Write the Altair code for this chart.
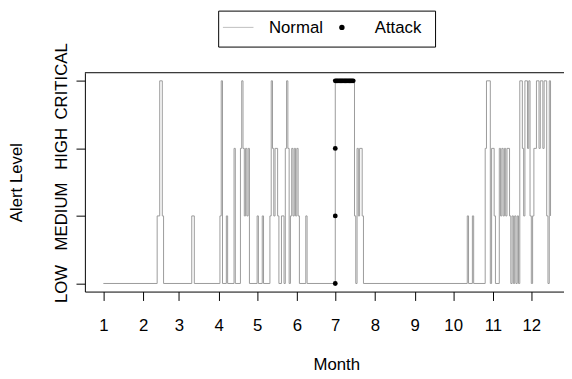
import altair as alt
import pandas as pd

# ---- data (day of year, alert level code: 0=LOW 1=MEDIUM 2=HIGH 3=CRITICAL) ----
level_names = ["LOW", "MEDIUM", "HIGH", "CRITICAL"]
month_start_days = [1, 32, 60, 91, 121, 152, 182, 213, 244, 274, 305, 335]
month_labels = ["1", "2", "3", "4", "5", "6", "7", "8", "9", "10", "11", "12"]

normal_day = [1, 43, 45, 47, 48, 70, 72, 92, 93, 94, 97, 98, 103, 104,
              108, 109, 110, 111, 112, 113, 114, 115, 121, 122, 125, 126,
              131, 132, 133, 134, 135, 137, 138, 140, 142,
              143, 144, 145, 146, 147, 148, 149, 150, 151, 152, 153, 154,
              159, 160, 182,
              197, 198, 199, 200, 201, 203, 204,
              285, 286, 289, 290,
              299, 300, 303, 304, 306, 307,
              310, 311, 312, 313, 314, 315, 316, 318, 319, 320, 321, 322, 323, 324, 325,
              326, 328, 329, 330, 332, 333, 334, 335, 336, 337, 339, 341, 342, 344, 345,
              347, 348, 349, 350]
normal_level = [0, 1, 3, 1, 0, 1, 0, 1, 3, 0, 1, 0, 2, 0,
                2, 3, 2, 1, 2, 1, 2, 0, 1, 0, 1, 0,
                1, 3, 2, 1, 2, 1, 0, 1, 0,
                2, 3, 2, 0, 1, 2, 1, 2, 1, 2, 1, 0,
                1, 0, 3,
                1, 0, 2, 1, 2, 1, 0,
                1, 0, 1, 0,
                2, 3, 0, 2, 1, 0,
                2, 1, 2, 1, 2, 1, 2, 1, 0, 1, 0, 1, 0, 1, 0,
                3, 2, 1, 3, 2, 3, 1, 0, 1, 2, 3, 2, 3, 2, 3,
                1, 0, 3, 1]

attack_day = [182, 182, 182, 182, 183, 184, 185, 186, 187, 188, 189, 190,
              191, 192, 193, 194, 195, 196]
attack_level = [0, 1, 2, 3, 3, 3, 3, 3, 3, 3, 3, 3,
                3, 3, 3, 3, 3, 3]

legend_labels = ["Normal", "Attack"]
x_title = "Month"
y_title = "Alert Level"

FONT = "Liberation Sans"
FS = 17
W, H = 486, 222

normal_df = pd.DataFrame({"day": normal_day, "level": normal_level})
attack_df = pd.DataFrame({"day": attack_day, "level": attack_level})
one = pd.DataFrame({"k": [0]})

x_scale = alt.Scale(domain=[-13.4, 360.5], nice=False, zero=False)
y_scale = alt.Scale(domain=[-0.12, 3.12], nice=False, zero=False)

days_js = "[" + ",".join(str(d) for d in month_start_days) + "]"
labs_js = "[" + ",".join("'" + m + "'" for m in month_labels) + "]"
lev_js = "[" + ",".join("'" + n + "'" for n in level_names) + "]"

x_axis = alt.Axis(
    values=month_start_days,
    labelExpr=labs_js + "[indexof(" + days_js + ", datum.value)]",
    title=x_title, grid=False, tickSize=9, tickColor="black",
    domainColor="black", labelColor="black", labelFont=FONT, labelFontSize=FS,
    labelBaseline="alphabetic", labelPadding=30, labelAlign="center",
    titleFont=FONT, titleFontSize=FS, titleFontWeight="normal", titleColor="black",
    titleBaseline="alphabetic", titleAlign="center", titleY=79, titleX=255,
)
y_axis = alt.Axis(
    values=[0, 1, 2, 3],
    labelExpr=lev_js + "[datum.value]",
    title=y_title, grid=False, tickSize=9, tickColor="black",
    domainColor="black", labelColor="black", labelFont=FONT, labelFontSize=FS,
    labelAngle=270, labelAlign="center", labelBaseline="alphabetic", labelPadding=10,
    titleFont=FONT, titleFontSize=FS, titleFontWeight="normal", titleColor="black",
    titleAngle=270, titleAlign="center", titleBaseline="alphabetic",
    titleX=-64, titleY=H / 2,
)

line = alt.Chart(normal_df).mark_line(
    interpolate="step-after", color="#9a9a9a", strokeWidth=1
).encode(
    x=alt.X("day:Q", scale=x_scale, axis=x_axis),
    y=alt.Y("level:Q", scale=y_scale, axis=y_axis),
)

pts = alt.Chart(attack_df).mark_circle(color="black", size=24, opacity=1).encode(
    x=alt.X("day:Q", scale=x_scale),
    y=alt.Y("level:Q", scale=y_scale),
)

top_rule = alt.Chart(one).mark_rule(color="black", strokeWidth=1).encode(
    x=alt.value(0), x2=alt.value(W), y=alt.value(0)
)

leg_box = alt.Chart(one).mark_rect(fill="white", stroke="black", strokeWidth=1).encode(
    x=alt.value(135.7), x2=alt.value(355.7), y=alt.value(-62.5), y2=alt.value(-26)
)
leg_line = alt.Chart(one).mark_rule(color="#bebebe", strokeWidth=1).encode(
    x=alt.value(140), x2=alt.value(171), y=alt.value(-46)
)
leg_dot = alt.Chart(one).mark_circle(color="black", size=30, opacity=1).encode(
    x=alt.value(260.7), y=alt.value(-46)
)
leg_t1 = alt.Chart(one).mark_text(
    align="left", baseline="middle", font=FONT, fontSize=FS, color="black"
).encode(x=alt.value(186.7), y=alt.value(-45), text=alt.value(legend_labels[0]))
leg_t2 = alt.Chart(one).mark_text(
    align="left", baseline="middle", font=FONT, fontSize=FS, color="black"
).encode(x=alt.value(294), y=alt.value(-45), text=alt.value(legend_labels[1]))

chart = alt.layer(
    line, pts, top_rule, leg_box, leg_line, leg_dot, leg_t1, leg_t2
).properties(
    width=W, height=H,
    padding={"left": 78, "top": 63, "right": 0, "bottom": 84},
    autosize=alt.AutoSizeParams(type="none"),
).configure_view(stroke=None)

chart.save("out.html", embed_options={"renderer": "svg", "actions": False})
